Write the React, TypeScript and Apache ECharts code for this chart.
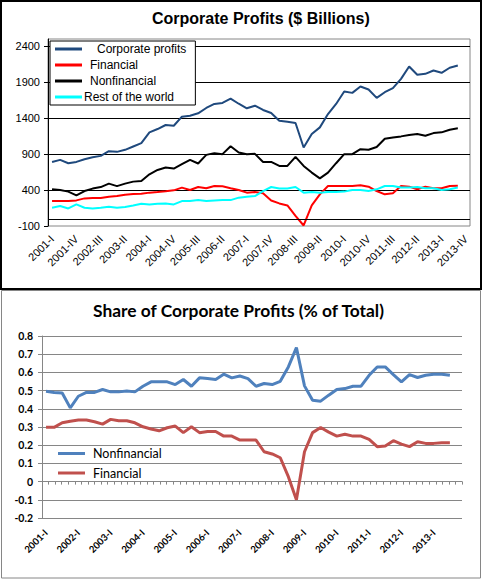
import React, { useEffect, useRef } from "react";
import * as echarts from "echarts";

// quarters 2001-I .. 2013-IV (last quarter has no data yet)
const years = [2001, 2002, 2003, 2004, 2005, 2006, 2007, 2008, 2009, 2010, 2011, 2012, 2013];
const quarters = ["I", "II", "III", "IV"];
const categories = years.flatMap((y) => quarters.map((q) => `${y}-${q}`));

// $ billions
const corporateProfits = [
  791, 819, 773, 791, 829, 857, 875, 940, 931, 959, 1006, 1052, 1202, 1248, 1304, 1294,
  1420, 1433, 1467, 1541, 1597, 1611, 1670, 1600, 1537, 1573, 1513, 1471, 1364, 1350, 1332, 992,
  1178, 1271, 1457, 1597, 1769, 1751, 1839, 1797, 1681, 1760, 1816, 1946, 2118, 2002, 2016, 2062,
  2030, 2100, 2132, null,
];
const financial = [
  246, 246, 246, 256, 284, 288, 288, 308, 316, 336, 344, 350, 364, 372, 382, 396,
  434, 400, 442, 424, 456, 452, 424, 400, 364, 372, 354, 255, 214, 186, 40, -93,
  186, 340, 456, 456, 456, 456, 466, 447, 386, 340, 354, 456, 447, 410, 447, 424,
  424, 456, 461, null,
];
const nonfinancial = [
  410, 400, 378, 326, 386, 420, 441, 489, 455, 489, 517, 526, 619, 679, 713, 699,
  759, 819, 769, 889, 913, 899, 1010, 922, 899, 903, 791, 791, 735, 735, 861, 735,
  643, 563, 643, 773, 899, 899, 968, 961, 999, 1112, 1132, 1146, 1164, 1178, 1154, 1192,
  1202, 1238, 1258, null,
];
const restOfWorld = [
  154, 177, 144, 200, 154, 144, 154, 168, 154, 163, 186, 210, 200, 210, 214, 200,
  246, 246, 260, 246, 256, 260, 260, 294, 308, 316, 386, 442, 420, 420, 442, 364,
  372, 364, 372, 372, 378, 400, 400, 386, 410, 456, 456, 434, 434, 442, 424, 424,
  400, 410, 434, null,
];

// share of total
const nonfinancialShare = [
  0.497, 0.49, 0.487, 0.405, 0.469, 0.49, 0.49, 0.506, 0.493, 0.493, 0.498, 0.493, 0.524, 0.548, 0.548, 0.548,
  0.533, 0.561, 0.524, 0.57, 0.566, 0.561, 0.59, 0.57, 0.58, 0.566, 0.524, 0.539, 0.533, 0.551, 0.63, 0.736,
  0.526, 0.447, 0.442, 0.475, 0.506, 0.511, 0.524, 0.524, 0.584, 0.63, 0.63, 0.588, 0.548, 0.588, 0.572, 0.584,
  0.59, 0.59, 0.584, null,
];
const financialShare = [
  0.298, 0.298, 0.323, 0.332, 0.338, 0.338, 0.329, 0.316, 0.342, 0.334, 0.334, 0.323, 0.301, 0.289, 0.279, 0.296,
  0.305, 0.269, 0.301, 0.269, 0.275, 0.275, 0.25, 0.25, 0.228, 0.228, 0.228, 0.164, 0.152, 0.131, 0.027, -0.1,
  0.164, 0.269, 0.297, 0.272, 0.25, 0.26, 0.25, 0.25, 0.232, 0.192, 0.196, 0.225, 0.206, 0.192, 0.219, 0.21,
  0.21, 0.214, 0.214, null,
];

const arial = "'Liberation Sans', Arial, sans-serif";
const lato = "Lato, 'Open Sans', sans-serif";

const App: React.FC = () => {
  const chartRef = useRef<HTMLDivElement>(null);

  useEffect(() => {
    if (!chartRef.current) return;
    const chart = echarts.init(chartRef.current, undefined, { renderer: "svg" });

    // leading gap of each legend text in the top box
    const topPad: Record<string, string> = {
      "Corporate profits": "p3",
      Financial: "p1",
      Nonfinancial: "p1",
      "Rest of the world": "p0",
    };

    const line = (name: string, data: (number | null)[], color: string, width: number, x: number, y: number) => ({
      name,
      type: "line",
      data,
      xAxisIndex: x,
      yAxisIndex: y,
      symbol: "none",
      lineStyle: { color, width },
      itemStyle: { color },
      emphasis: { disabled: true },
    });

    chart.setOption({
      animation: false,
      backgroundColor: "#fff",
      title: [
        {
          text: "Corporate Profits ($ Billions)",
          left: 152,
          top: 10,
          padding: 0,
          textStyle: { fontFamily: arial, fontSize: 16, fontWeight: "bold", color: "#000" },
        },
        {
          text: "Share of Corporate Profits (% of Total)",
          left: 93,
          top: 302,
          padding: 0,
          textStyle: { fontFamily: lato, fontSize: 17.4, fontWeight: "bold", color: "#000" },
        },
      ],
      legend: [
        {
          orient: "vertical",
          left: 50,
          top: 41,
          padding: [1, 9, 1, 5],
          itemGap: 2,
          itemWidth: 27,
          itemHeight: 3,
          icon: "rect",
          selectedMode: false,
          backgroundColor: "#fff",
          borderColor: "#000",
          borderWidth: 1,
          data: [
            { name: "Corporate profits", itemStyle: { color: "#1F497D" } },
            { name: "Financial", itemStyle: { color: "#FF0000" } },
            { name: "Nonfinancial", itemStyle: { color: "#000000" } },
            { name: "Rest of the world", itemStyle: { color: "#00FFFF" } },
          ],
          formatter: (name: string) => `{${topPad[name]}|${name}}`,
          textStyle: {
            fontFamily: arial,
            fontSize: 12,
            lineHeight: 14,
            color: "#000",
            rich: {
              p0: { fontFamily: arial, fontSize: 12, padding: [0, 0, 0, -3] },
              p1: { fontFamily: arial, fontSize: 12, padding: [0, 0, 0, 3] },
              p3: { fontFamily: arial, fontSize: 12, padding: [0, 0, 0, 10] },
            },
          },
        },
        {
          orient: "vertical",
          left: 58,
          top: 446,
          padding: 0,
          itemGap: 4.5,
          itemWidth: 27,
          itemHeight: 3,
          icon: "rect",
          selectedMode: false,
          data: [
            { name: "Nonfinancial", itemStyle: { color: "#4F81BD" } },
            { name: "Financial", itemStyle: { color: "#C0504D" } },
          ],
          formatter: (name: string) => `{b|${name}}`,
          textStyle: {
            fontFamily: lato,
            fontSize: 12.5,
            lineHeight: 15,
            color: "#000",
            rich: { b: { fontFamily: lato, fontSize: 12.5, padding: [0, 0, 0, 3] } },
          },
        },
      ],
      grid: [
        { left: 48, top: 39, width: 422, height: 187, show: true, borderColor: "#868686", borderWidth: 1 },
        { left: 42, top: 336, width: 420, height: 182 },
      ],
      xAxis: [
        {
          type: "category",
          gridIndex: 0,
          data: categories,
          position: "bottom",
          axisLine: { show: false, onZero: false },
          axisTick: { show: false },
          splitLine: { show: false },
          axisLabel: { interval: 2, rotate: 45, margin: 11, fontFamily: arial, fontSize: 11, color: "#000" },
        },
        {
          type: "category",
          gridIndex: 1,
          data: categories,
          position: "bottom",
          axisLine: { show: false, onZero: false },
          axisTick: { show: false },
          splitLine: { show: false },
          axisLabel: {
            interval: 3,
            rotate: 45,
            margin: 13,
            fontFamily: lato,
            fontWeight: "bold",
            fontSize: 9.5,
            color: "#000",
          },
        },
        {
          // tick marks along the zero line of the share chart
          type: "value",
          gridIndex: 1,
          min: 0,
          max: 64,
          interval: 1,
          position: "bottom",
          axisLine: { show: true, onZero: true, lineStyle: { color: "#868686" } },
          axisTick: { show: true, length: 3, lineStyle: { color: "#868686" } },
          axisLabel: { show: false },
          splitLine: { show: false },
        },
      ],
      yAxis: [
        {
          type: "value",
          gridIndex: 0,
          min: -100,
          max: 2500,
          interval: 500,
          axisLine: { show: true, lineStyle: { color: "#000" } },
          axisTick: { show: true, length: 4, lineStyle: { color: "#000" } },
          axisLabel: {
            showMaxLabel: false,
            margin: 8,
            fontFamily: arial,
            fontSize: 11,
            color: "#000",
            formatter: (v: number) => String(v),
          },
          splitLine: { show: true, showMinLine: false, showMaxLine: false, lineStyle: { color: "#000", width: 1 } },
        },
        {
          type: "value",
          gridIndex: 1,
          min: -0.2,
          max: 0.8,
          interval: 0.1,
          axisLine: { show: true, lineStyle: { color: "#868686" } },
          axisTick: { show: true, length: 4, lineStyle: { color: "#868686" } },
          axisLabel: { margin: 9, fontFamily: lato, fontWeight: "bold", fontSize: 10.5, color: "#000" },
          splitLine: { show: true, lineStyle: { color: "#868686", width: 1 } },
        },
      ],
      series: [
        {
          ...line("Corporate profits", corporateProfits, "#1F497D", 2, 0, 0),
          markLine: {
            silent: true,
            symbol: "none",
            label: { show: false },
            emphasis: { disabled: true },
            lineStyle: { color: "#000", type: "solid", width: 1 },
            data: [{ yAxis: 0 }],
          },
        },
        line("Financial", financial, "#FF0000", 2, 0, 0),
        line("Nonfinancial", nonfinancial, "#000000", 2, 0, 0),
        line("Rest of the world", restOfWorld, "#00FFFF", 2, 0, 0),
        line("Nonfinancial", nonfinancialShare, "#4F81BD", 3, 1, 1),
        line("Financial", financialShare, "#C0504D", 3, 1, 1),
      ],
      graphic: [
        {
          type: "rect",
          silent: true,
          z: 100,
          shape: { x: 1, y: 1, width: 480, height: 288 },
          style: { fill: "none", stroke: "#000", lineWidth: 2 },
        },
        {
          type: "rect",
          silent: true,
          z: 100,
          shape: { x: 1.5, y: 290.5, width: 479, height: 287.5 },
          style: { fill: "none", stroke: "#868686", lineWidth: 1 },
        },
      ],
    });

    return () => {
      chart.dispose();
    };
  }, []);

  return (
    <div
      ref={chartRef}
      style={{ position: "fixed", left: 0, top: 0, width: "483px", height: "582px", background: "#fff" }}
    />
  );
};

export default App;
